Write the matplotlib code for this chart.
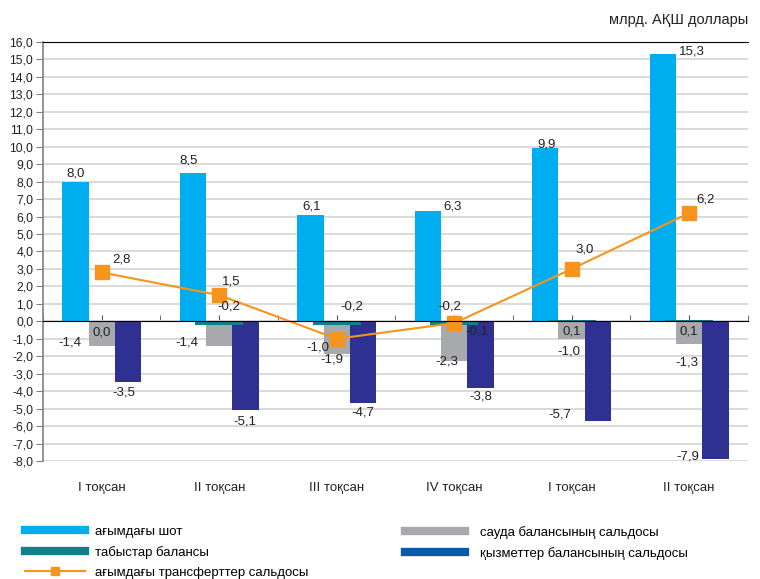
import numpy as np
import matplotlib
matplotlib.use("Agg")
import matplotlib.pyplot as plt
from matplotlib import font_manager
from matplotlib.lines import Line2D
from matplotlib.ticker import FuncFormatter, MultipleLocator

# данные (млрд. долл. США)
quarters = ["I тоқсан", "II тоқсан", "III тоқсан", "IV тоқсан", "I тоқсан", "II тоқсан"]
current = [8.0, 8.5, 6.1, 6.3, 9.9, 15.3]
trade = [-1.4, -1.4, -1.9, -2.3, -1.0, -1.3]
income = [0.0, -0.2, -0.2, -0.2, 0.1, 0.1]
services = [-3.5, -5.1, -4.7, -3.8, -5.7, -7.9]
transfers = [2.8, 1.5, -1.0, -0.1, 3.0, 6.2]

names = ["ағымдағы шот", "сауда балансының сальдосы", "табыстар балансы",
         "қызметтер балансының сальдосы", "ағымдағы трансферттер сальдосы"]

c_blue = "#00aeef"
c_gray = "#a7a9ac"
c_teal = "#10808a"
c_navy = "#2e3192"
c_navy_leg = "#0b5aa8"
c_orange = "#f7941d"

avail = {f.name for f in font_manager.fontManager.ttflist}
narrow = "Liberation Sans Narrow" if "Liberation Sans Narrow" in avail else "Liberation Sans"
plt.rcParams["font.family"] = ["Liberation Sans", "DejaVu Sans"]

fig = plt.figure(figsize=(7.6, 5.79), dpi=100)
ax = fig.add_axes([0.0566, 0.2038, 0.9275, 0.7237])

x = np.arange(len(quarters))
w = 0.225

ax.bar(x - w, current, w, color=c_blue, zorder=3)
ax.bar(x, trade, w, color=c_gray, zorder=3)
ax.bar(x + w, services, w, color=c_navy, zorder=3)
ax.bar(x, income, 0.41, color=c_teal, zorder=4)
ax.plot(x, transfers, color=c_orange, lw=1.5, marker="s", ms=10, zorder=5)

ax.set_xlim(-0.5, 5.5)
ax.set_ylim(-8, 16)
ax.yaxis.set_major_locator(MultipleLocator(1))
ax.yaxis.set_major_formatter(FuncFormatter(lambda v, p: f"{v:.1f}".replace(".", ",")))
ax.grid(axis="y", color="#d4d4d4", lw=1.2, zorder=0)
ax.tick_params(axis="y", direction="out", length=5, color="#808080", labelsize=8.8, pad=2,
               labelcolor="#222222")

ax.set_xticks(x)
ax.set_xticks(np.arange(-0.5, 6, 1), minor=True)
ax.tick_params(axis="x", which="both", direction="in", length=4, labelbottom=False,
               color="#555555")

ax.spines["bottom"].set_position(("data", 0))
ax.spines["bottom"].set_color("black")
ax.spines["bottom"].set_zorder(6)
ax.spines["right"].set_visible(False)
ax.spines["top"].set_color("black")
ax.spines["left"].set_color("#808080")
ax.spines["left"].set_linewidth(1.2)

for i, q in enumerate(quarters):
    ax.text(x[i], -0.065, q, transform=ax.get_xaxis_transform(), ha="center",
            va="center", fontsize=9.5, family=[narrow, "DejaVu Sans"], color="#222222")

def fmt(v):
    return f"{v:.1f}".replace(".", ",")

def put_labels(xs, vals, offs):
    for xi, v, (dx, dy) in zip(xs, vals, offs):
        ax.annotate(fmt(v), (xi, v), xytext=(dx, dy), textcoords="offset pixels",
                    ha="center", va="center", fontsize=9.5, color="#222222", zorder=7)

put_labels(x - w, current, [(0, 8), (-4, 12), (1, 8), (25, 5), (1, 4), (29, 3)])
put_labels(x, trade, [(-32, 3), (-32, 3), (-5, -5), (-7, 0), (-3, -13), (-2, -18)])
put_labels(x, income, [(0, -11), (10, 18), (15, 18), (-4, 18), (0, -12), (0, -12)])
put_labels(x + w, services, [(-4, -10), (-1, -11), (0, -9), (0, -9), (-38, 6), (-28, 3)])
put_labels(x, transfers, [(20, 13), (12, 14), (-19, -9), (23, -8), (13, 19), (16, 14)])

fig.text(0.984, 0.965, "млрд. АҚШ доллары", ha="right", va="center", fontsize=10.5,
         color="#222222")

h_blue = Line2D([], [], color=c_blue, lw=6)
h_gray = Line2D([], [], color=c_gray, lw=6)
h_teal = Line2D([], [], color=c_teal, lw=6)
h_navy = Line2D([], [], color=c_navy_leg, lw=6)
h_line = Line2D([], [], color=c_orange, lw=1.5, marker="s", ms=6)

leg_font = {"family": [narrow, "DejaVu Sans"], "size": 9.5}
fig.legend([h_blue, h_teal, h_line], [names[0], names[2], names[4]],
           loc="upper left", bbox_to_anchor=(0.033, 0.092), frameon=False,
           prop=leg_font, handlelength=4.55, handletextpad=0.76, labelspacing=0.6,
           borderaxespad=0, borderpad=0)
fig.legend([h_gray, h_navy], [names[1], names[3]],
           loc="upper left", bbox_to_anchor=(0.533, 0.092), frameon=False,
           prop=leg_font, handlelength=4.55, handletextpad=1.14, labelspacing=0.6,
           borderaxespad=0, borderpad=0)

fig.savefig("out.png", dpi=100)
